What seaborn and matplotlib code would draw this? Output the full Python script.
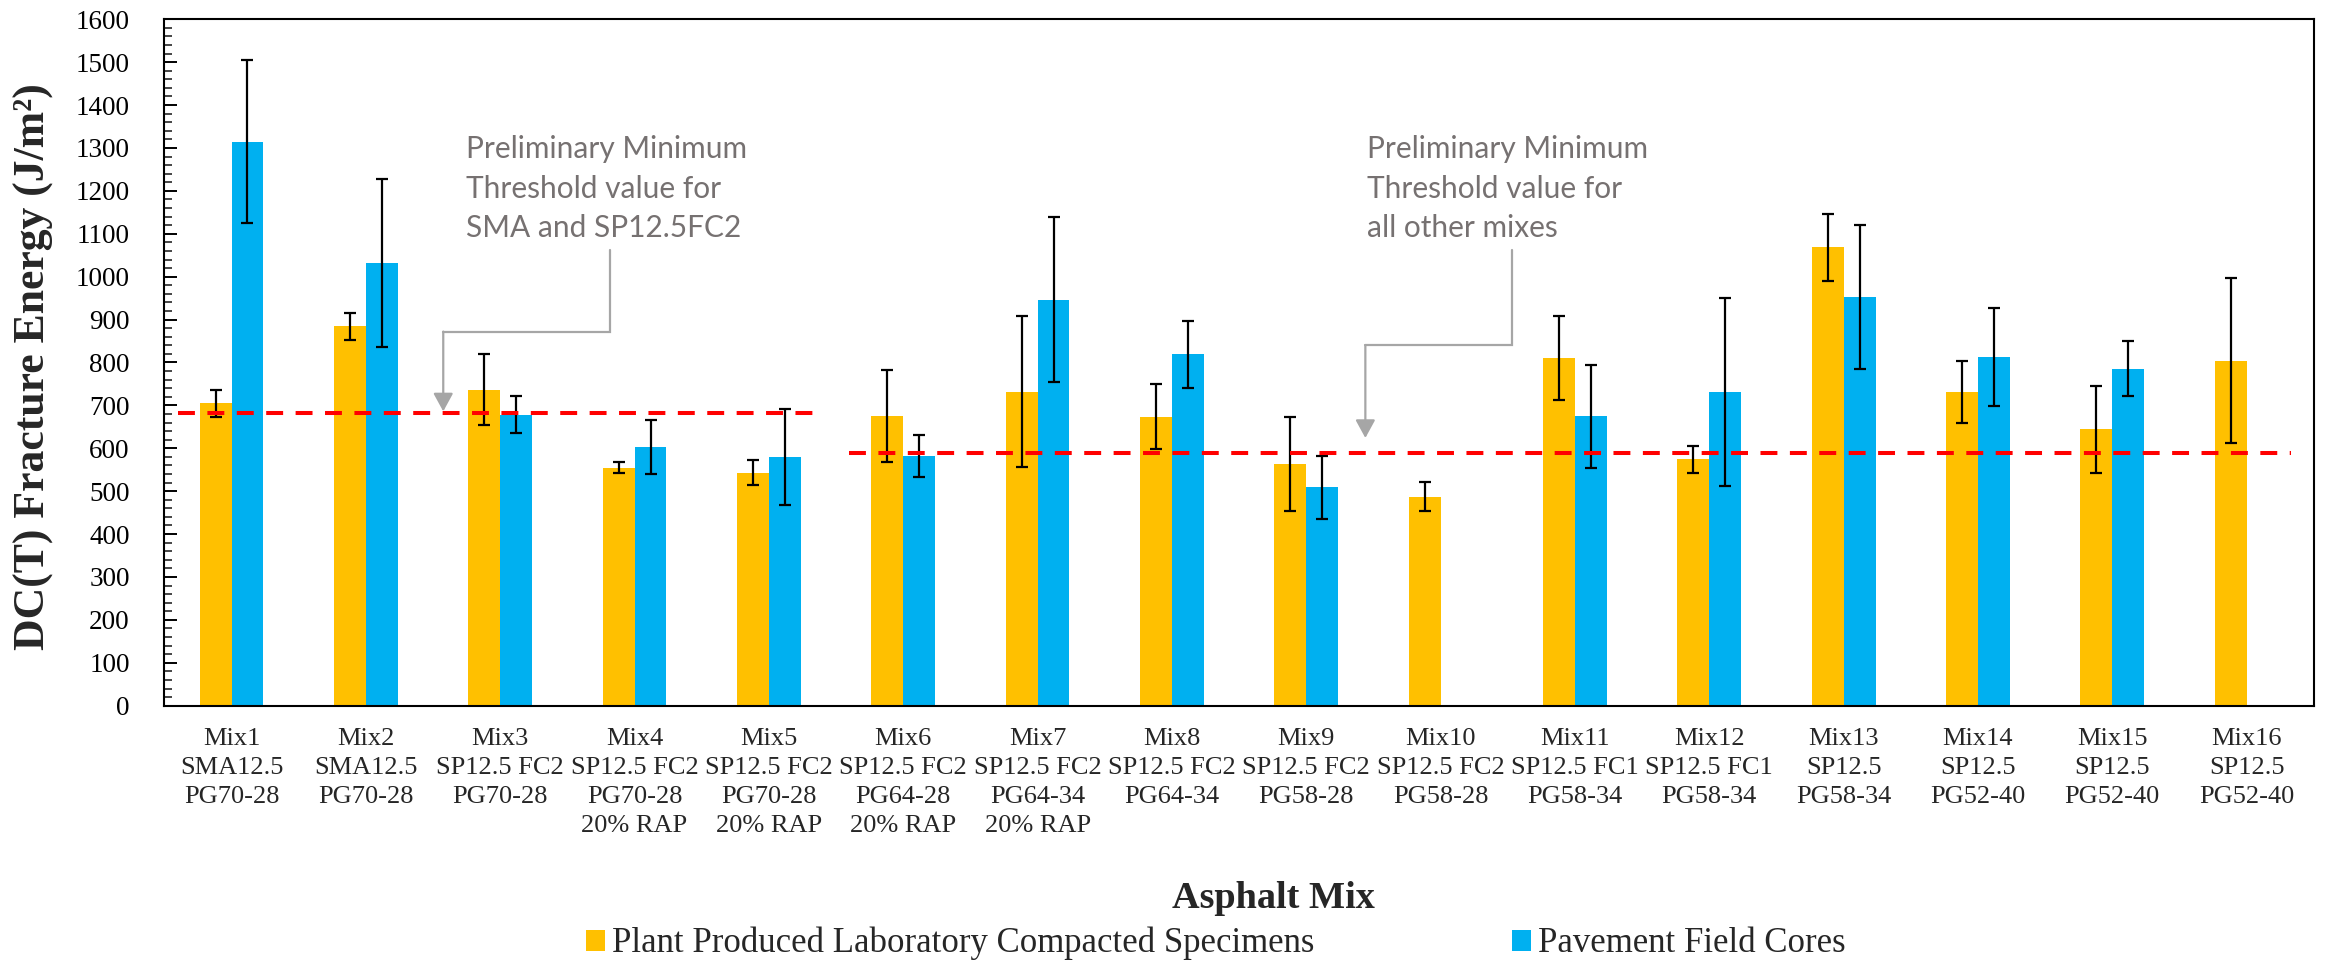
import numpy as np
import pandas as pd
import matplotlib
matplotlib.use("Agg")
import matplotlib.pyplot as plt
from matplotlib.patches import Patch
from matplotlib.ticker import MultipleLocator
import seaborn as sns

# ---------------- data ----------------
mixes = ["Mix1", "Mix2", "Mix3", "Mix4", "Mix5", "Mix6", "Mix7", "Mix8",
         "Mix9", "Mix10", "Mix11", "Mix12", "Mix13", "Mix14", "Mix15", "Mix16"]
tick_labels = [
    "Mix1\nSMA12.5\nPG70-28",
    "Mix2\nSMA12.5\nPG70-28",
    "Mix3\nSP12.5 FC2\nPG70-28",
    "Mix4\nSP12.5 FC2\nPG70-28\n20% RAP",
    "Mix5\nSP12.5 FC2\nPG70-28\n20% RAP",
    "Mix6\nSP12.5 FC2\nPG64-28\n20% RAP",
    "Mix7\nSP12.5 FC2\nPG64-34\n20% RAP",
    "Mix8\nSP12.5 FC2\nPG64-34",
    "Mix9\nSP12.5 FC2\nPG58-28",
    "Mix10\nSP12.5 FC2\nPG58-28",
    "Mix11\nSP12.5 FC1\nPG58-34",
    "Mix12\nSP12.5 FC1\nPG58-34",
    "Mix13\nSP12.5\nPG58-34",
    "Mix14\nSP12.5\nPG52-40",
    "Mix15\nSP12.5\nPG52-40",
    "Mix16\nSP12.5\nPG52-40",
]
series_names = ["Plant Produced Laboratory Compacted Specimens", "Pavement Field Cores"]
lab_values = [705, 884, 737, 555, 543, 675, 732, 674, 563, 487, 811, 574, 1069, 731, 644, 804]
lab_errors = [31, 31, 82, 12, 29, 107, 176, 75, 109, 34, 98, 32, 78, 73, 102, 192]
field_values = [1315, 1031, 678, 603, 579, 582, 946, 819, 509, np.nan, 675, 731, 953, 813, 785, np.nan]
field_errors = [189, 196, 43, 63, 112, 50, 192, 78, 73, np.nan, 120, 220, 168, 114, 64, np.nan]

threshold_values = [682, 589]
threshold_texts = ["Preliminary Minimum\nThreshold value for\nSMA and SP12.5FC2",
                   "Preliminary Minimum\nThreshold value for\nall other mixes"]

colors = ["#FFC000", "#00B0F0"]

# ---------------- figure ----------------
sns.set_style("white")
plt.rcParams["font.family"] = ["Liberation Serif", "DejaVu Serif"]

fig = plt.figure(figsize=(23.28, 9.63), dpi=100)
ax = fig.add_axes([0.0706, 0.2672, 0.9233, 0.7128])

df = pd.DataFrame({
    "mix": mixes * 2,
    "value": lab_values + field_values,
    "series": [series_names[0]] * len(mixes) + [series_names[1]] * len(mixes),
})

bar_width = 0.475
sns.barplot(data=df, x="mix", y="value", hue="series", order=mixes,
            hue_order=series_names, palette=colors, width=bar_width,
            saturation=1, errorbar=None, legend=False, ax=ax, linewidth=0)

x = np.arange(len(mixes))
offsets = [-bar_width / 4, bar_width / 4]
for off, vals, errs in zip(offsets, [lab_values, field_values], [lab_errors, field_errors]):
    ax.errorbar(x + off, vals, yerr=errs, fmt="none", ecolor="black",
                elinewidth=1.6, capsize=4, capthick=1.6, zorder=4)

# threshold lines
line_spans = [(-0.40, 4.37), (4.60, 15.33)]
for t, (x0, x1) in zip(threshold_values, line_spans):
    ax.plot([x0, x1], [t, t], color="#FF0000", lw=2.9,
            dashes=(4.2, 3.1), zorder=5, solid_capstyle="butt")

# annotations
ann_font = ["Lato", "DejaVu Sans"]
text_pos = [(1.742, 1330), (8.45, 1330)]
arrow_paths = [
    [(2.82, 1062), (2.82, 872), (1.576, 872), (1.576, 686)],
    [(9.53, 1062), (9.53, 840), (8.44, 840), (8.44, 624)],
]
arrow_color = "#A6A6A6"
for (tx, ty), txt, path in zip(text_pos, threshold_texts, arrow_paths):
    ax.text(tx, ty, txt, ha="left", va="top", fontsize=21.5, color="#767171",
            family=ann_font, linespacing=1.5, zorder=6)
    xs = [p[0] for p in path[:-1]]
    ys = [p[1] for p in path[:-1]]
    ax.plot(xs, ys, color=arrow_color, lw=1.6, zorder=6, solid_joinstyle="miter")
    ax.annotate("", xy=path[-1], xytext=path[-2],
                arrowprops=dict(arrowstyle="-|>,head_length=0.55,head_width=0.3",
                                color=arrow_color, lw=1.6, mutation_scale=20,
                                shrinkA=0, shrinkB=0),
                zorder=6)

# axes formatting
ax.set_xlim(-0.5, 15.5)
ax.set_ylim(0, 1600)
ax.yaxis.set_major_locator(MultipleLocator(100))
ax.yaxis.set_minor_locator(MultipleLocator(20))
ax.tick_params(axis="y", which="major", direction="in", length=9, width=1.4,
               labelsize=19.5, pad=25, left=True, colors="black")
ax.tick_params(axis="y", which="minor", direction="in", length=6, width=1.2, left=True)
ax.set_xticks(x)
ax.set_xticklabels(tick_labels, fontsize=19, linespacing=1.42)
ax.tick_params(axis="x", which="both", length=0, pad=16)
ax.set_xlabel("")
ax.set_ylabel("")
for s in ax.spines.values():
    s.set_visible(True)
    s.set_color("black")
    s.set_linewidth(1.5)

fig.text(33.5 / 2328, 1 - 367 / 963, "DC(T) Fracture Energy (J/m²)", rotation=90,
         ha="center", va="center", fontsize=31.5, fontweight="bold")
fig.text(0.547, 0.0665, "Asphalt Mix", ha="center", va="center",
         fontsize=27.5, fontweight="bold")

handles = [Patch(facecolor=c, edgecolor="none") for c in colors]
fig.legend(handles, series_names, loc="center", bbox_to_anchor=(0.5223, 0.02),
           ncol=2, frameon=False, fontsize=25, handlelength=0.55, handleheight=0.55,
           handletextpad=0.2, columnspacing=5.7, borderpad=0, borderaxespad=0)

fig.savefig("out.png", dpi=100)
